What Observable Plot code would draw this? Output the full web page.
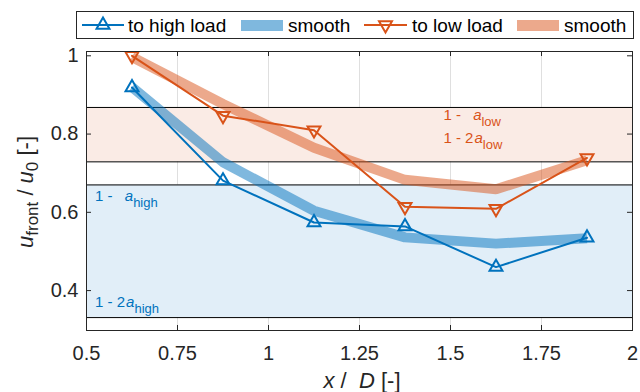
<!DOCTYPE html>
<html><head><meta charset="utf-8">
<script src="https://cdn.jsdelivr.net/npm/d3@7"></script>
<script src="https://cdn.jsdelivr.net/npm/@observablehq/plot@0.6"></script>
<style>
body{margin:0;background:#fff;font-family:"Liberation Sans",Arial,Helvetica,sans-serif;}
#wrap{position:relative;width:640px;height:392px;overflow:hidden;}
#chart svg{display:block;}
#legend{position:absolute;left:76px;top:11px;}
</style></head><body>
<div id="wrap"><div id="chart"></div><svg id="legend" width="559" height="29"></svg></div>
<script>
// ---- data ----
const xPos = [0.625, 0.875, 1.125, 1.375, 1.625, 1.875];
const highLoad = [0.919, 0.681, 0.574, 0.564, 0.460, 0.535];
const highSmooth = [0.920, 0.728, 0.604, 0.536, 0.520, 0.534];
const lowLoad = [1.000, 0.847, 0.810, 0.614, 0.609, 0.739];
const lowSmooth = [0.997, 0.877, 0.765, 0.683, 0.659, 0.733];
const bandHigh = [0.331, 0.670];
const bandLow = [0.729, 0.868];
const xTicks = [0.5, 0.75, 1, 1.25, 1.5, 1.75, 2];
const yTicks = [0.4, 0.6, 0.8, 1];
const xDomain = [0.5, 2];
const yDomain = [0.298, 1.011];
const legendLabels = ["to high load", "smooth", "to low load", "smooth"];
const annotations = [
  {x: 0.525, y: 0.628, lead: "1 - ", gap: 8, sub: "high", series: "high"},
  {x: 0.525, y: 0.356, lead: "1 - 2", gap: 1, sub: "high", series: "high"},
  {x: 1.482, y: 0.834, lead: "1 - ", gap: 8, sub: "low", series: "low"},
  {x: 1.482, y: 0.777, lead: "1 - 2", gap: 1, sub: "low", series: "low"}
];

// ---- styles ----
const blue = "#0072BD", orange = "#D95319", axisCol = "#262626";
const bandBlue = "#E1EEF8", bandOrange = "#FAEBE5";
const W = 640, H = 392, mL = 86, mR = 8, mT = 51, mB = 62;
const pxPerX = (W - mL - mR) / (xDomain[1] - xDomain[0]);
const pxPerY = (H - mT - mB) / (yDomain[1] - yDomain[0]);
const tickLen = 5;

const rows = xPos.map((x, i) => ({x, high: highLoad[i], highS: highSmooth[i], low: lowLoad[i], lowS: lowSmooth[i]}));
const S3 = Math.sqrt(3);
const triUp = {draw(ctx, size) { const y = -Math.sqrt(size / (S3 * 3)); ctx.moveTo(0, y * 2); ctx.lineTo(-S3 * y, -y); ctx.lineTo(S3 * y, -y); ctx.closePath(); }};
const triDown = {draw(ctx, size) { const y = Math.sqrt(size / (S3 * 3)); ctx.moveTo(0, y * 2); ctx.lineTo(-S3 * y, -y); ctx.lineTo(S3 * y, -y); ctx.closePath(); }};
const fmt = d => String(+(+d).toFixed(2));

const plot = Plot.plot({
  width: W, height: H, marginLeft: mL, marginRight: mR, marginTop: mT, marginBottom: mB,
  x: {domain: xDomain, label: null},
  y: {domain: yDomain, label: null},
  style: {fontFamily: "Liberation Sans, Arial, Helvetica, sans-serif", fontSize: "20px", color: axisCol, background: "transparent"},
  marks: [
    Plot.ruleX(xTicks.slice(1, -1), {stroke: axisCol, strokeOpacity: 0.15}),
    Plot.rect([bandHigh, bandLow], {x1: () => xDomain[0], x2: () => xDomain[1], y1: d => d[0], y2: d => d[1],
      fill: (d, i) => i === 0 ? bandBlue : bandOrange}),
    Plot.ruleY([...bandHigh, ...bandLow], {stroke: "#000", strokeWidth: 1}),
    Plot.line(rows, {x: "x", y: "highS", stroke: blue, strokeOpacity: 0.5, strokeWidth: 10, strokeLinejoin: "miter", strokeLinecap: "butt"}),
    Plot.line(rows, {x: "x", y: "lowS", stroke: orange, strokeOpacity: 0.5, strokeWidth: 10, strokeLinejoin: "miter", strokeLinecap: "butt"}),
    Plot.line(rows, {x: "x", y: "high", stroke: blue, strokeWidth: 2}),
    Plot.line(rows, {x: "x", y: "low", stroke: orange, strokeWidth: 2}),
    Plot.dot(rows, {x: "x", y: "high", symbol: triUp, r: 4.8, stroke: blue, strokeWidth: 2, fill: "none"}),
    Plot.dot(rows, {x: "x", y: "low", symbol: triDown, r: 4.8, stroke: orange, strokeWidth: 2, fill: "none"}),
    // inward ticks
    Plot.ruleX(xTicks, {y1: () => yDomain[0], y2: () => yDomain[0] + tickLen / pxPerY, stroke: axisCol}),
    Plot.ruleX(xTicks, {y1: () => yDomain[1], y2: () => yDomain[1] - tickLen / pxPerY, stroke: axisCol}),
    Plot.ruleY(yTicks, {x1: () => xDomain[0], x2: () => xDomain[0] + tickLen / pxPerX, stroke: axisCol}),
    Plot.ruleY(yTicks, {x1: () => xDomain[1], x2: () => xDomain[1] - tickLen / pxPerX, stroke: axisCol}),
    Plot.axisX(xTicks, {tickSize: 0, tickPadding: 15, tickFormat: fmt, label: null, fill: axisCol}),
    Plot.axisY(yTicks, {tickSize: 0, tickPadding: 8, tickFormat: fmt, label: null, fill: axisCol}),
    Plot.frame({stroke: axisCol})
  ]
});
document.getElementById("chart").appendChild(plot);

const sx = plot.scale("x"), sy = plot.scale("y");
const svg = d3.select(plot);

function richText(parent, {x, y, rotate = 0, anchor = "start", color, size, subSize, subShift, parts}) {
  const t = parent.append("text")
    .attr("transform", `translate(${x},${y}) rotate(${rotate})`)
    .attr("text-anchor", anchor).attr("fill", color)
    .attr("font-size", size).style("white-space", "pre")
    .attr("font-family", "Liberation Sans, Arial, Helvetica, sans-serif");
  let cur = 0;
  for (const p of parts) {
    const s = t.append("tspan").text(p.t);
    const target = p.sub ? subShift : 0;
    if (target !== cur) { s.attr("dy", target - cur); cur = target; }
    s.attr("font-size", p.sub ? subSize : size);
    if (p.i) s.attr("font-style", "italic");
    if (p.dx) s.attr("dx", p.dx);
  }
  return t;
}

// annotations
for (const a of annotations) {
  richText(svg, {x: sx.apply(a.x), y: sy.apply(a.y), color: a.series === "high" ? blue : orange,
    size: 15, subSize: 13, subShift: 6,
    parts: [{t: a.lead}, {t: "a", i: true, dx: a.gap}, {t: a.sub, sub: true}]});
}

// axis labels
richText(svg, {x: (mL + W - mR) / 2 + 3, y: 388, anchor: "middle", color: axisCol, size: 22, subSize: 16, subShift: 5,
  parts: [{t: "x", i: true}, {t: " /  "}, {t: "D", i: true}, {t: " [-]"}]});
richText(svg, {x: 33, y: 192, rotate: -90, anchor: "middle", color: axisCol, size: 22, subSize: 17, subShift: 5,
  parts: [{t: "u", i: true}, {t: "front", sub: true}, {t: " / "}, {t: "u", i: true}, {t: "0", sub: true}, {t: " [-]"}]});

// legend
const lg = d3.select("#legend");
lg.append("rect").attr("x", 0.5).attr("y", 0.5).attr("width", 557).attr("height", 27).attr("fill", "#fff").attr("stroke", axisCol);
const lgY = 14;
function lineItem(x0, x1, color, sym, label, tx) {
  lg.append("line").attr("x1", x0).attr("x2", x1).attr("y1", lgY).attr("y2", lgY).attr("stroke", color).attr("stroke-width", 2);
  const p = d3.path(); sym.draw(p, 4.8 * 4.8 * Math.PI);
  lg.append("path").attr("d", p.toString()).attr("transform", `translate(${(x0 + x1) / 2},${lgY})`)
    .attr("fill", "none").attr("stroke", color).attr("stroke-width", 2);
  lg.append("text").attr("x", tx).attr("y", 20.5).attr("font-size", 19).attr("fill", "#000").text(label);
}
function rectItem(x0, x1, color, label, tx) {
  lg.append("rect").attr("x", x0).attr("y", 9).attr("width", x1 - x0).attr("height", 11).attr("fill", color).attr("fill-opacity", 0.5);
  lg.append("text").attr("x", tx).attr("y", 20.5).attr("font-size", 19).attr("fill", "#000").text(label);
}
lineItem(6, 48, blue, triUp, legendLabels[0], 52);
rectItem(165, 207, blue, legendLabels[1], 212);
lineItem(288, 331, orange, triDown, legendLabels[2], 336);
rectItem(441, 483, orange, legendLabels[3], 488);
</script>
</body></html>
